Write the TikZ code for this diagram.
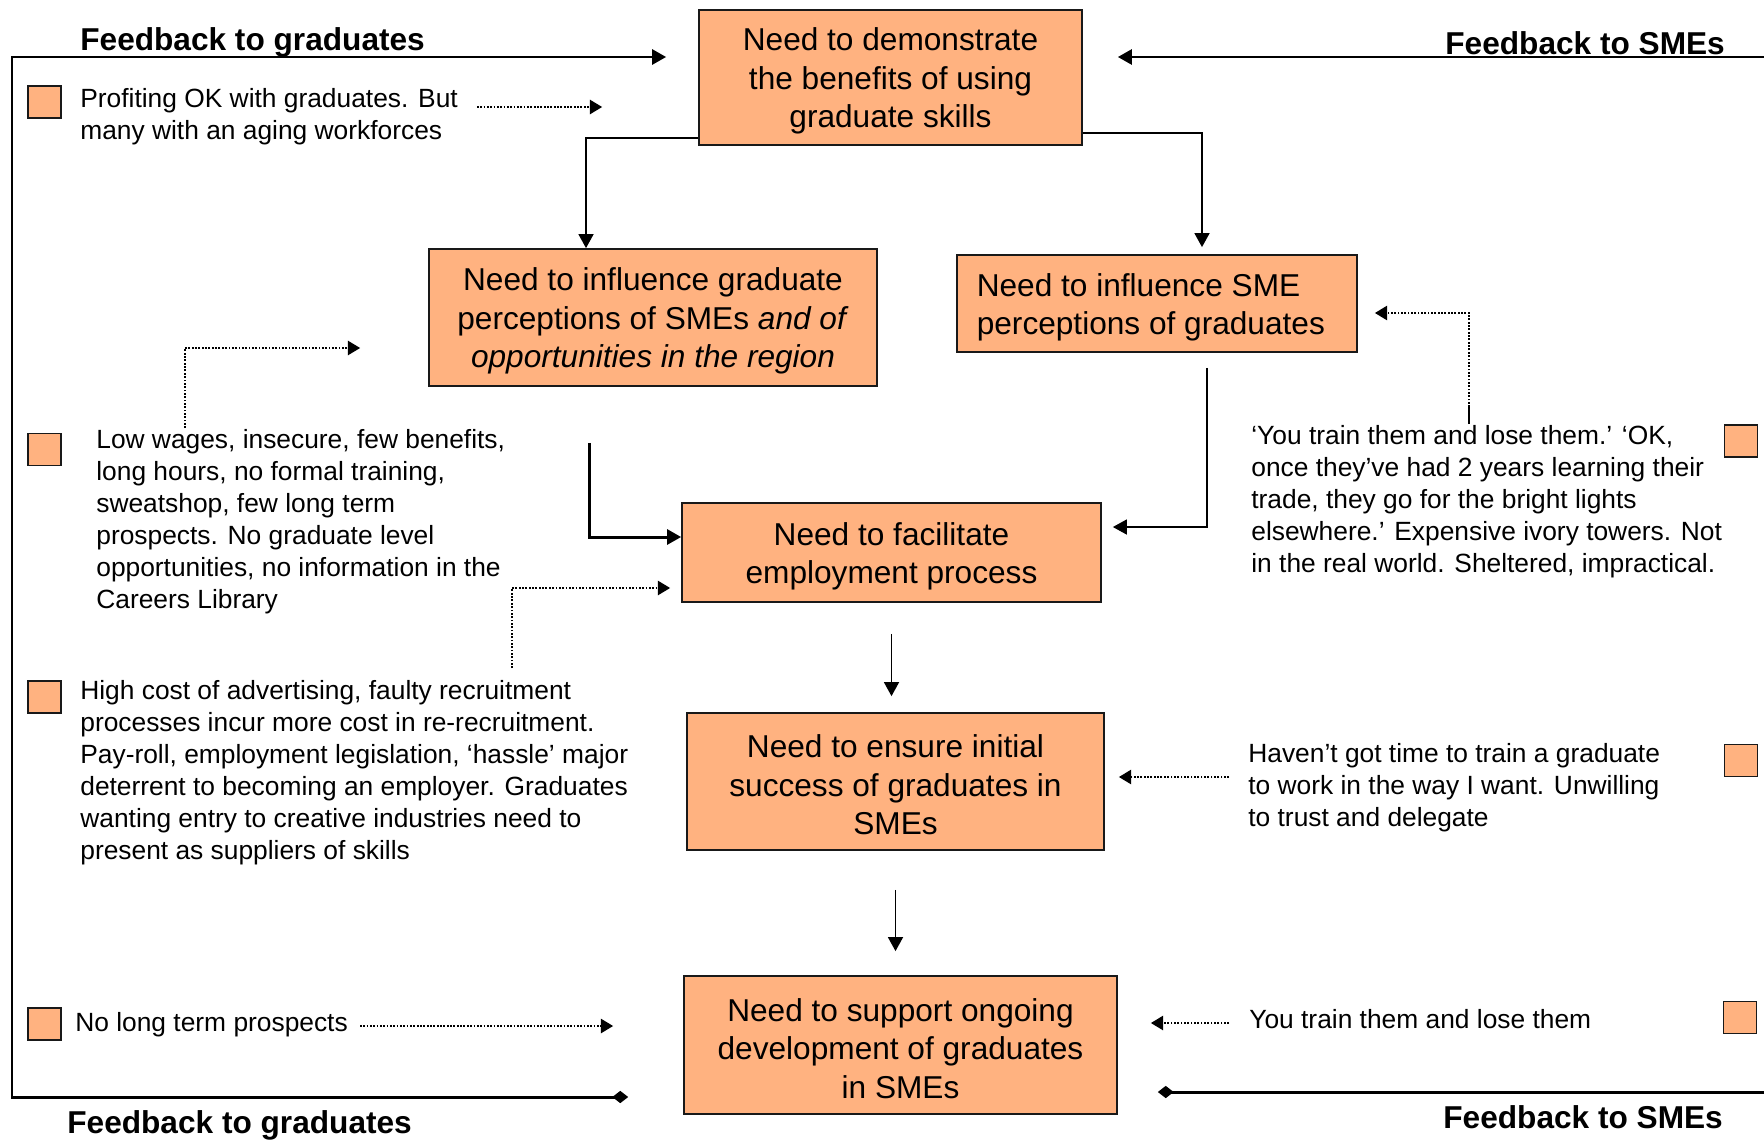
\documentclass[tikz,border=0pt]{standalone}
\usepackage{fontspec}
\setmainfont{Liberation Sans}
\usetikzlibrary{arrows.meta,positioning}
\definecolor{peach}{RGB}{255,178,128}
\newcommand{\boxstrut}{\rule{0pt}{17pt}}
\tikzset{
  need/.style={draw=black!90, line width=1pt, fill=peach, align=center, inner sep=0pt, font=\fontsize{18}{21.8}\selectfont},
  note/.style={align=left, inner sep=0pt, anchor=west, font=\fontsize{15}{18.2}\selectfont},
  fbtitle/.style={inner sep=0pt, anchor=base west, font=\fontsize{18}{21}\selectfont\bfseries},
  marker/.style={draw=black!90, line width=1pt, fill=peach, minimum width=0.66cm, minimum height=0.64cm, inner sep=0pt},
  link/.style={line width=1.1pt, ->},
  fbline/.style={line width=1.7pt},
  cue/.style={line width=1.4pt, dash pattern=on 1pt off 0.9pt, -{Triangle[length=7pt,width=8pt]}},
}
\begin{document}
\begin{tikzpicture}[x=0.02cm, y=-0.02cm, >={Triangle[length=8pt,width=8.5pt]}]
        \useasboundingbox (0,0) rectangle (1764,1139);

        % the six needs
        \node[need, minimum width=7.66cm, minimum height=2.70cm] (demo) at (890.5,77.5) {\boxstrut Need to demonstrate\\ the benefits of using\\ graduate skills};
        \node[need, minimum width=8.96cm, minimum height=2.74cm] (gradper) at (653,317.5) {\boxstrut Need to influence graduate\\ perceptions of SMEs \textit{and of}\\ \textit{opportunities in the region}};
        \node[need, align=left, minimum width=8.0cm, minimum height=1.94cm] (smeper) at (1157,303.5) {\boxstrut Need to influence SME\\ perceptions of graduates\hspace*{7pt}};
        \node[need, minimum width=8.38cm, minimum height=1.98cm] (facil) at (891.5,552.5) {\boxstrut Need to facilitate\\ employment process};
        \node[need, minimum width=8.34cm, minimum height=2.74cm] (initial) at (895.5,781.5) {\boxstrut Need to ensure initial\\ success of graduates in\\ SMEs};
        \node[need, minimum width=8.66cm, minimum height=2.76cm] (ongoing) at (900.5,1045) {\boxstrut Need to support ongoing\\ development of graduates\\ in SMEs};

        % feedback labels
        \node[fbtitle] (fgtop) at (80,51) {Feedback to graduates};
        \node[fbtitle] (fstop) at (1445,54) {Feedback to SMEs};
        \node[fbtitle] (fgbot) at (67,1133) {Feedback to graduates};
        \node[fbtitle] (fsbot) at (1443,1128) {Feedback to SMEs};

        % markers
        \node[marker] (m1) at (44.5,102) {};
        \node[marker] (m2) at (44.5,449.5) {};
        \node[marker] (m3) at (44.5,697) {};
        \node[marker] (m4) at (44.5,1024) {};
        \node[marker] (m5) at (1741,441) {};
        \node[marker] (m6) at (1741,760.5) {};
        \node[marker] (m7) at (1740,1017.5) {};

        % notes
        \node[note] (prof) at (80,117) {Profiting OK with graduates. But\\ many with an aging workforces};
        \node[note] (low) at (96,522) {Low wages, insecure, few benefits,\\ long hours, no formal training,\\ sweatshop, few long term\\ prospects. No graduate level\\ opportunities, no information in the\\ Careers Library};
        \node[note] (cost) at (80,773) {High cost of advertising, faulty recruitment\\ processes incur more cost in re-recruitment.\\ Pay-roll, employment legislation, ‘hassle’ major\\ deterrent to becoming an employer. Graduates\\ wanting entry to creative industries need to\\ present as suppliers of skills};
        \node[note] (nolong) at (75,1025) {No long term prospects};
        \node[note] (lose) at (1251,502) {‘You train them and lose them.’ ‘OK,\\ once they’ve had 2 years learning their\\ trade, they go for the bright lights\\ elsewhere.’ Expensive ivory towers. Not\\ in the real world. Sheltered, impractical.};
        \node[note] (notime) at (1248,787.5) {Haven’t got time to train a graduate\\ to work in the way I want. Unwilling\\ to trust and delegate};
        \node[note] (lose2) at (1249,1019) {You train them and lose them};

        % main flow
        \draw[link] ([yshift=0.16cm]demo.south west) -| ([xshift=-1.34cm]gradper.north);
        \draw[link, shorten >=0.14cm] ([yshift=0.26cm]demo.south east) -| ([xshift=0.9cm]smeper.north);
        \draw[link, line width=1.7pt, shorten <=1.12cm] ([xshift=-1.28cm]gradper.south) |- ([yshift=0.31cm]facil.west);
        \draw[link, shorten <=0.3cm, shorten >=0.22cm] ([xshift=1cm]smeper.south) |- ([yshift=0.51cm]facil.east);
        \draw[link, shorten <=0.62cm, shorten >=0.32cm] (facil.south) -- (facil.south |- initial.north);
        \draw[link, shorten <=0.78cm, shorten >=0.48cm] (initial.south) -- (initial.south |- ongoing.north);

        % feedback loops
        \coordinate (fgb) at (12,1097);
        \coordinate (fgt) at (12,57);
        \coordinate (fst) at (1764,57);
        \coordinate (fsb) at (1764,1092);
        \draw[fbline, {Diamond[length=9pt,width=7pt]}->, shorten <=1.1cm, shorten >=0.64cm] (ongoing.west |- fgb) -- (fgb) -- (fgt) -- (demo.west |- fgt);
        \draw[fbline, ->, shorten >=0.7cm] (fst) -- (demo.east |- fst);
        \draw[fbline, {Diamond[length=9pt,width=7pt]}-, shorten <=0.8cm] (ongoing.east |- fsb) -- (fsb);

        % cues from the notes
        \coordinate (c1) at (477,107);
        \coordinate (c2) at (185,428);
        \coordinate (c3) at (512,668);
        \coordinate (c4) at (1469,424);
        \coordinate (c4b) at (1469,407);
        \coordinate (c5) at (1229,777);
        \coordinate (c6) at (360,1026);
        \coordinate (c7) at (1229,1023);
        \draw[cue, shorten >=1.92cm] (c1) -- (demo.west |- c1);
        \draw[cue, shorten >=1.36cm] (c2) |- ([yshift=-0.61cm]gradper.west);
        \draw[cue, shorten >=0.22cm] (c3) |- ([yshift=-0.71cm]facil.west);
        \draw[line width=1.1pt] (c4) -- (c4b);
        \draw[cue, shorten >=0.34cm] (c4b) |- ([yshift=-0.19cm]smeper.east);
        \draw[cue, shorten >=0.28cm] (c5) -- (initial.east |- c5);
        \draw[cue, shorten >=1.4cm] (c6) -- (ongoing.west |- c6);
        \draw[cue, shorten >=0.66cm] (c7) -- (ongoing.east |- c7);
      \end{tikzpicture}
\end{document}
